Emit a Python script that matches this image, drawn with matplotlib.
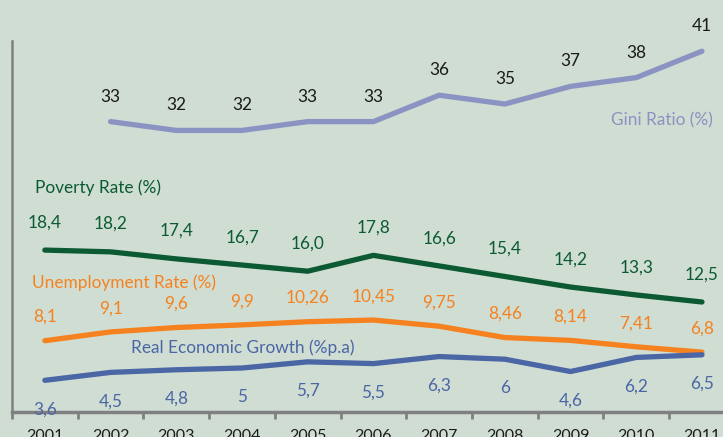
import matplotlib.pyplot as plt
import numpy as np

# données
years = ['2001', '2002', '2003', '2004', '2005', '2006', '2007', '2008', '2009', '2010', '2011']
gini = [np.nan, 33, 32, 32, 33, 33, 36, 35, 37, 38, 41]
poverty = [18.4, 18.2, 17.4, 16.7, 16.0, 17.8, 16.6, 15.4, 14.2, 13.3, 12.5]
unemployment = [8.1, 9.1, 9.6, 9.9, 10.26, 10.45, 9.75, 8.46, 8.14, 7.41, 6.8]
growth = [3.6, 4.5, 4.8, 5, 5.7, 5.5, 6.3, 6, 4.6, 6.2, 6.5]

bg = '#d0ddd3'
c_gini = '#8a93c2'
c_pov = '#0b5a32'
c_unemp = '#f5821f'
c_growth = '#4a66a5'

plt.rcParams['font.family'] = ['Lato', 'DejaVu Sans']

fig = plt.figure(figsize=(7.23, 4.37), dpi=100, facecolor=bg)
ax = fig.add_axes([12 / 723, 25 / 437, 711 / 723, 371 / 437], facecolor=bg)

x = np.arange(len(years))

ax.plot(x, gini, color=c_gini, lw=3.8, solid_capstyle='round')
ax.plot(x, poverty, color=c_pov, lw=3.8, solid_capstyle='round')
ax.plot(x, unemployment, color=c_unemp, lw=3.8, solid_capstyle='round')
ax.plot(x, growth, color=c_growth, lw=3.8, solid_capstyle='round')


def lab(v):
    return str(v).replace('.', ',')


fs = 12.4

# étiquettes des valeurs
for i in range(len(years)):
    if not np.isnan(gini[i]):
        ax.annotate(lab(gini[i]), (x[i], gini[i]), xytext=(0, 18), textcoords='offset points',
                    ha='center', va='center', fontsize=fs, color='#1a1a1a')
    ax.annotate(lab(poverty[i]), (x[i], poverty[i]), xytext=(0, 20), textcoords='offset points',
                ha='center', va='center', fontsize=fs, color=c_pov)
    ax.annotate(lab(unemployment[i]), (x[i], unemployment[i]), xytext=(0, 17), textcoords='offset points',
                ha='center', va='center', fontsize=fs, color=c_unemp)
    ax.annotate(lab(growth[i]), (x[i], growth[i]), xytext=(0, -21), textcoords='offset points',
                ha='center', va='center', fontsize=fs, color=c_growth)

# noms des séries
fig.text(713 / 723, 1 - 120 / 437, 'Gini Ratio (%)', ha='right', va='center', fontsize=fs, color=c_gini)
fig.text(35 / 723, 1 - 188 / 437, 'Poverty Rate (%)', ha='left', va='center', fontsize=fs, color=c_pov)
fig.text(32 / 723, 1 - 283 / 437, 'Unemployment Rate (%)', ha='left', va='center', fontsize=fs, color=c_unemp)
fig.text(131 / 723, 1 - 348 / 437, 'Real Economic Growth (%p.a)', ha='left', va='center', fontsize=fs, color=c_growth)

# axes
ax.set_xticks(x)
ax.set_xticklabels(years, fontsize=11.5, color='#1a1a1a')
ax.set_xticks(np.arange(-0.5, 10, 1), minor=True)
ax.set_xlim(-0.5, 10.32)
ax.set_ylim(0, 42.16)
ax.tick_params(axis='x', which='major', length=0, pad=12)
ax.tick_params(axis='x', which='minor', length=5, width=2, color='#808080')
ax.set_yticks([])
for s in ['top', 'right']:
    ax.spines[s].set_visible(False)
ax.spines['left'].set_color('#808080')
ax.spines['left'].set_linewidth(1.8)
ax.spines['bottom'].set_color('#808080')
ax.spines['bottom'].set_linewidth(2.5)

fig.savefig('out.png', dpi=100, facecolor=bg)
